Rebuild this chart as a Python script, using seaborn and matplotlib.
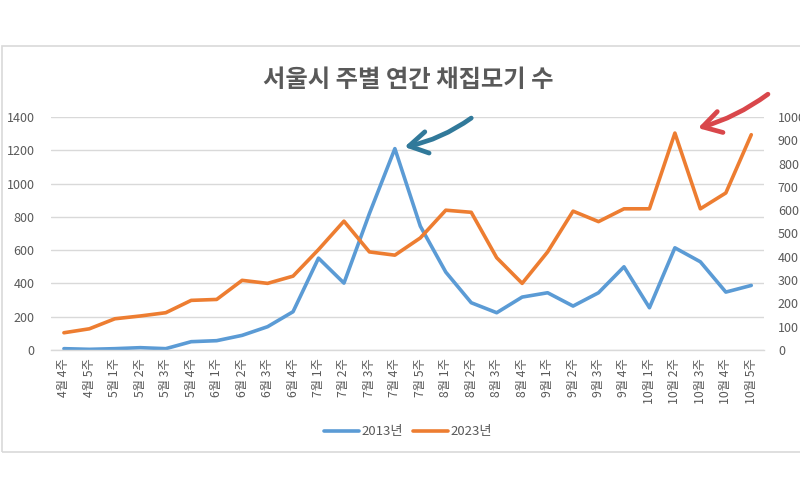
import matplotlib
matplotlib.use("Agg")
import matplotlib.pyplot as plt
import seaborn as sns
import pandas as pd
from matplotlib.patches import Rectangle
from matplotlib.ticker import FixedLocator, MultipleLocator

sns.set_theme(style="white")
plt.rcParams['font.family'] = ['Noto Sans CJK KR', 'DejaVu Sans']

weeks = ["4월 4주", "4월 5주", "5월 1주", "5월 2주", "5월 3주", "5월 4주",
         "6월 1주", "6월 2주", "6월 3주", "6월 4주",
         "7월 1주", "7월 2주", "7월 3주", "7월 4주", "7월 5주",
         "8월 1주", "8월 2주", "8월 3주", "8월 4주",
         "9월 1주", "9월 2주", "9월 3주", "9월 4주",
         "10월 1주", "10월 2주", "10월 3주", "10월 4주", "10월 5주"]
y2013 = [8, 4, 8, 14, 8, 50, 56, 88, 140, 230,
         552, 402, 820, 1210, 744,
         468, 284, 224, 318,
         344, 264, 344, 500,
         254, 614, 530, 348, 388]
y2023 = [74, 91, 134, 146, 160, 213, 217, 299, 286, 317,
         431, 553, 421, 407, 481,
         600, 591, 396, 286,
         421, 596, 551, 606,
         606, 931, 606, 674, 924]
series_names = ["2013년", "2023년"]
title = "서울시 주별 연간 채집모기 수"

df = pd.DataFrame({"week": weeks, "y2013": y2013, "y2023": y2023})
df["pos"] = range(len(weeks))

blue = "#5B9BD5"
orange = "#ED7D31"
txt = "#595959"
grid = "#D9D9D9"

fig = plt.figure(figsize=(8, 5), dpi=100)
fig.patch.set_facecolor("white")
fig.patches.append(Rectangle((0.002, 0.096), 1.2, 0.812, transform=fig.transFigure,
                             fill=False, edgecolor="#D9D9D9", linewidth=1.2, zorder=0))

ax = fig.add_axes([0.064, 0.30, 0.891, 0.466])
ax2 = ax.twinx()

sns.lineplot(data=df, x="pos", y="y2013", ax=ax, color=blue, linewidth=2.6,
             label=series_names[0], legend=False)
sns.lineplot(data=df, x="pos", y="y2023", ax=ax2, color=orange, linewidth=2.6,
             label=series_names[1], legend=False)

ax.set_xlim(-0.5, len(weeks) - 0.5)
ax.set_ylim(0, 1400)
ax2.set_ylim(0, 1000)
ax.yaxis.set_major_locator(MultipleLocator(200))
ax2.yaxis.set_major_locator(MultipleLocator(100))

ax.set_xticks(range(len(weeks)))
ax.set_xticklabels(weeks, rotation=90, fontsize=8.8, color=txt, va="top", ha="center")
ax.xaxis.set_minor_locator(FixedLocator([i - 0.5 for i in range(len(weeks) + 1)]))
ax.tick_params(axis="x", which="major", length=0, pad=6)
ax.tick_params(axis="x", which="minor", length=5, color=grid, width=1, direction="out")
ax.tick_params(axis="y", length=0, labelsize=9, labelcolor=txt, pad=12)
ax2.tick_params(axis="y", length=0, labelsize=9, labelcolor=txt, pad=10)

ax.grid(axis="y", color=grid, linewidth=1)
ax.set_axisbelow(True)
for a in (ax, ax2):
    for s in ("top", "left", "right", "bottom"):
        a.spines[s].set_visible(False)
    a.set_xlabel("")
    a.set_ylabel("")
ax.spines["bottom"].set_visible(True)
ax.spines["bottom"].set_color(grid)
ax.spines["bottom"].set_linewidth(1)

fig.text(0.51, 0.84, title, ha="center", va="center", fontsize=17.5,
         fontweight="bold", color=txt)

h1, l1 = ax.get_legend_handles_labels()
h2, l2 = ax2.get_legend_handles_labels()
fig.legend(h1 + h2, l1 + l2, loc="center", bbox_to_anchor=(0.51, 0.136), ncol=2,
           frameon=False, fontsize=9.5, labelcolor=txt, handlelength=2.6,
           columnspacing=0.8, handletextpad=0.2)

# hand-drawn style arrows pointing at the peaks
i13 = y2013.index(max(y2013))
ax.annotate("", xy=(i13, y2013[i13]), xytext=(55, 22), textcoords="offset points",
            arrowprops=dict(arrowstyle="->,head_length=1.1,head_width=0.65",
                            color="#31799A", lw=3.4, shrinkA=0, shrinkB=7,
                            connectionstyle="arc3,rad=-0.12"))
i23 = y2023.index(max(y2023))
ax2.annotate("", xy=(i23, y2023[i23]), xytext=(67, 28), textcoords="offset points",
             arrowprops=dict(arrowstyle="->,head_length=1.1,head_width=0.65",
                             color="#D9474B", lw=3.4, shrinkA=0, shrinkB=17,
                             connectionstyle="arc3,rad=-0.12"))

fig.savefig("out.png", dpi=100, facecolor="white")
